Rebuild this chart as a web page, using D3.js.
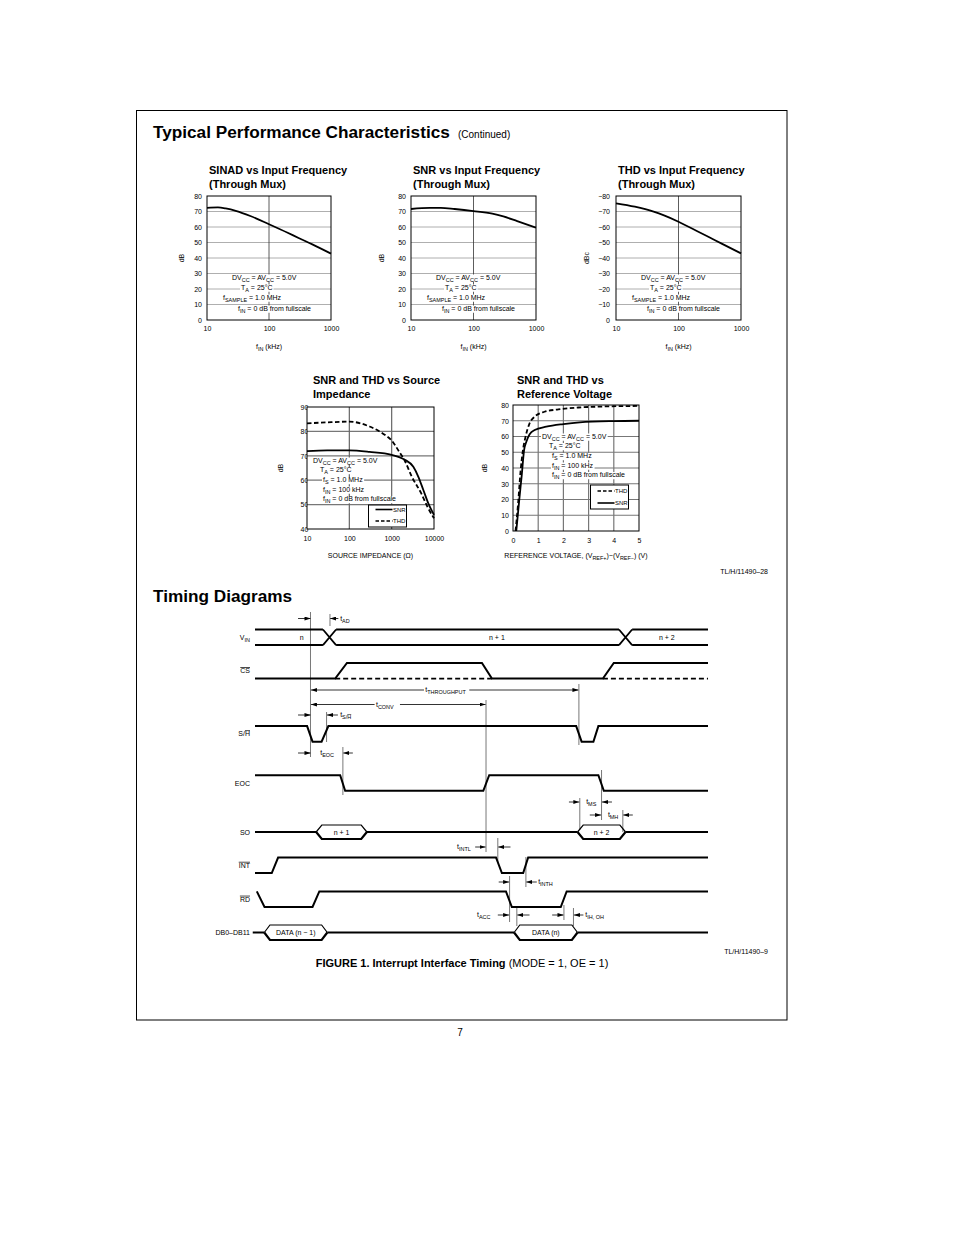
<!DOCTYPE html>
<html>
<head>
<meta charset="utf-8">
<script src="https://cdn.jsdelivr.net/npm/d3@7"></script>
<style>
  body { margin: 0; background: #fff; }
  svg text { font-family: "Liberation Sans", Arial, sans-serif; fill: #000; }
</style>
</head>
<body>
<svg id="page" width="954" height="1235"></svg>
<script>
// ---------- chart data
const sinadFreq = [10, 15, 20, 30, 50, 100, 200, 300, 500, 1000];
const sinadDb   = [72.4, 72.6, 72.0, 70.3, 67.1, 61.8, 56.3, 52.9, 48.8, 42.8];

const snrFreq = [10, 20, 30, 50, 100, 200, 300, 500, 1000];
const snrDb   = [71.6, 72.3, 72.3, 71.6, 70.3, 68.6, 66.8, 63.8, 59.6];

const thdFreq = [10, 20, 40, 60, 100, 200, 300, 500, 1000];
const thdDbc  = [-75.3, -73.1, -69.9, -67.3, -63.4, -57.3, -53.7, -49.1, -43.0];

const zsOhm   = [10, 30, 100, 300, 1000, 2000, 3250, 4270, 5600, 7340, 10000];
const zsSnrDb = [71.9, 72.2, 72.2, 71.6, 70.4, 68.5, 65.5, 61.4, 56.0, 50.5, 45.8];
const ztOhm   = [10, 30, 100, 300, 700, 1000, 1500, 2000, 3000, 5000, 7000, 10000];
const zsThdDb = [83.3, 83.7, 84.0, 82.0, 78.5, 76.3, 71.7, 68.3, 61.4, 54.6, 49.1, 44.4];

const vrThdV  = [0.1, 0.2, 0.3, 0.4, 0.5, 0.65, 0.85, 1.25, 1.8, 2.6, 3.5, 5];
const vrThdDb = [0, 17, 38, 52, 60, 68, 72.5, 75.7, 77.2, 78.4, 79.0, 79.4];
const vrSnrV  = [0.13, 0.25, 0.35, 0.44, 0.53, 0.66, 0.86, 1.32, 2.0, 2.65, 4.0, 5];
const vrSnrDb = [0, 20, 36, 51.4, 56.7, 61.4, 64.1, 66.2, 67.9, 69.0, 69.8, 70.0];

const dbTicks   = [0, 10, 20, 30, 40, 50, 60, 70, 80];
const dbcTicks  = [0, -10, -20, -30, -40, -50, -60, -70, -80];
const zsDbTicks = [40, 50, 60, 70, 80, 90];
const freqTicks = [10, 100, 1000];
const ohmTicks  = [10, 100, 1000, 10000];
const voltTicks = [0, 1, 2, 3, 4, 5];

// ---------- timing data (time in arbitrary units, 0..100 across the diagram)
const vinCross   = [16.45, 81.8];
const vinText    = ['n', 'n + 1', 'n + 2'];
const vinTextAt  = [10.3, 53.4, 90.9];
const csWave  = [[0,0],[17.7,0],[20.3,1],[50.1,1],[52.3,0],[76.8,0],[79.2,1],[100,1]];
const csFloat = [[17.7,52.3],[76.8,100]];
const shWave  = [[0,1],[11.5,1],[12.7,0],[14.7,0],[16.2,1],[70.9,1],[72.1,0],[74.7,0],[75.8,1],[100,1]];
const eocWave = [[0,1],[18.8,1],[19.9,0],[50.4,0],[51.7,1],[75.8,1],[77.0,0],[100,0]];
const soWin   = [[13.5,24.7],[71.2,81.8]];
const soText  = ['n + 1', 'n + 2'];
const intWave = [[0,0],[3.7,0],[5.1,1],[53.2,1],[54.5,0],[59.2,0],[60.3,1],[100,1]];
const rdWave  = [[0.4,1],[2.1,0],[12.7,0],[14.2,1],[55.4,1],[56.7,0],[67.5,0],[68.8,1],[100,1]];
const dbWin   = [[2.05,15.96],[57.2,71.2]];
const dbText  = ['DATA (n \u2212 1)', 'DATA (n)'];

const FN = '"Liberation Sans Narrow", "Liberation Sans", Arial, sans-serif';
const svg = d3.select('#page');

// text with sub-scripts / overlines: parts = ['txt', ['sub','sub'], ['H','over'], ...]
function rich(sel, parts, size) {
  let shift = 0;
  parts.forEach(p => {
    const [str, kind] = typeof p === 'string' ? [p, null] : p;
    const target = (kind === 'sub' || kind === 'subover') ? size * 0.32 : 0;
    const ts = sel.append('tspan').attr('dy', target - shift).text(str);
    shift = target;
    if (kind === 'sub' || kind === 'subover') ts.attr('font-size', size * 0.78);
    if (kind === 'over' || kind === 'subover') ts.style('text-decoration', 'overline');
  });
  return sel;
}

function label(g, x, y, parts, size, opts = {}) {
  const t = g.append('text').attr('x', x).attr('y', y).attr('font-size', size)
    .attr('font-family', opts.family || FN);
  if (opts.anchor) t.attr('text-anchor', opts.anchor);
  if (opts.weight) t.attr('font-weight', opts.weight);
  rich(t, parts, size);
  if (opts.bg) {
    const b = t.node().getBBox();
    g.insert('rect', () => t.node()).attr('x', b.x - 1).attr('y', b.y + 1)
      .attr('width', b.width + 2).attr('height', b.height - 2).attr('fill', '#fff');
  }
  return t;
}

// page frame + headings
svg.append('rect').attr('x', 136.5).attr('y', 110.5).attr('width', 650.5).attr('height', 909.5)
  .attr('fill', 'none').attr('stroke', '#000').attr('stroke-width', 1);
svg.append('text').attr('x', 153).attr('y', 138).attr('font-size', 17.2).attr('font-weight', 'bold')
  .text('Typical Performance Characteristics');
svg.append('text').attr('x', 458).attr('y', 137.5).attr('font-size', 10).text('(Continued)');
svg.append('text').attr('x', 153).attr('y', 602).attr('font-size', 17.2).attr('font-weight', 'bold')
  .text('Timing Diagrams');
svg.append('text').attr('x', 768).attr('y', 574).attr('font-size', 7).attr('text-anchor', 'end')
  .attr('font-family', FN).text('TL/H/11490\u201328');
svg.append('text').attr('x', 768).attr('y', 954).attr('font-size', 7).attr('text-anchor', 'end')
  .attr('font-family', FN).text('TL/H/11490\u20139');
svg.append('text').attr('x', 460).attr('y', 1036).attr('font-size', 10).attr('text-anchor', 'middle').text('7');
{
  const cap = svg.append('text').attr('x', 462).attr('y', 967).attr('font-size', 11).attr('text-anchor', 'middle');
  cap.append('tspan').attr('font-weight', 'bold').text('FIGURE 1. Interrupt Interface Timing');
  cap.append('tspan').text(' (MODE = 1, OE = 1)');
}

// ---------- generic characteristic plot
function chart(c) {
  const g = svg.append('g');
  const x = (c.log ? d3.scaleLog() : d3.scaleLinear()).domain(c.xDomain).range([c.left, c.right]);
  const y = d3.scaleLinear().domain(c.yDomain).range([c.bottom, c.top]);

  c.title.forEach((t, i) => g.append('text').attr('x', c.titleX).attr('y', c.titleY + i * 13.5)
    .attr('font-size', 11).attr('font-weight', 'bold').text(t));

  const ya = g.append('g').attr('transform', `translate(${c.left},0)`)
    .call(d3.axisLeft(y).tickValues(c.yTicks).tickSize(0).tickPadding(c.yPad).tickFormat(d3.format('d')));
  ya.select('.domain').remove();
  ya.selectAll('text').attr('font-size', 7).attr('font-family', FN).attr('fill', '#000');

  const xa = g.append('g').attr('transform', `translate(0,${c.bottom})`)
    .call(d3.axisBottom(x).tickValues(c.xTicks).tickSize(0).tickPadding(c.xPad).tickFormat(d3.format('d')));
  xa.select('.domain').remove();
  xa.selectAll('text').attr('font-size', 7).attr('font-family', FN).attr('fill', '#000');

  // plot background (also hides the right half of clipped tick labels)
  g.append('rect').attr('x', c.left).attr('y', c.top).attr('width', c.right - c.left)
    .attr('height', c.bottom - c.top).attr('fill', '#fff');

  g.selectAll('line.hg').data(c.yTicks.slice(1, -1)).join('line').attr('class', 'hg')
    .attr('x1', c.left).attr('x2', c.right).attr('y1', d => y(d)).attr('y2', d => y(d))
    .attr('stroke', c.gridColor).attr('stroke-width', c.gridWidth);
  g.selectAll('line.vg').data(c.xGrid).join('line').attr('class', 'vg')
    .attr('y1', c.top).attr('y2', c.bottom).attr('x1', d => x(d)).attr('x2', d => x(d))
    .attr('stroke', c.vGridColor).attr('stroke-width', c.gridWidth);

  // axis titles
  const yt = g.append('text').attr('transform', `translate(${c.yTitleX},${(c.top + c.bottom) / 2}) rotate(-90)`)
    .attr('text-anchor', 'middle').attr('font-size', 7).attr('font-family', FN);
  yt.text(c.yTitle);
  label(g, (c.left + c.right) / 2, c.xTitleY, c.xTitle, 7, { anchor: 'middle' });

  // condition notes
  c.notes.forEach(n => label(g, c.left + n[0], c.top + n[1], n[2], 7, { bg: true }));

  const line = d3.line().curve(d3.curveMonotoneX).x(d => x(d[0])).y(d => y(d[1]));
  c.series.forEach(s => {
    g.append('path').attr('d', line(d3.zip(s.x, s.y))).attr('fill', 'none')
      .attr('stroke', '#000').attr('stroke-width', 1.8)
      .attr('stroke-dasharray', s.dash ? '4.5,2.5' : null);
  });

  g.append('rect').attr('x', c.left).attr('y', c.top).attr('width', c.right - c.left)
    .attr('height', c.bottom - c.top).attr('fill', 'none').attr('stroke', '#000').attr('stroke-width', 1);

  if (c.legend) {
    const L = c.legend;
    g.append('rect').attr('x', L.x).attr('y', L.y).attr('width', L.w).attr('height', L.h)
      .attr('fill', '#fff').attr('stroke', '#000').attr('stroke-width', 1);
    L.items.forEach((it, i) => {
      const yy = L.y + L.rowY[i];
      g.append('line').attr('x1', L.x + 7).attr('x2', L.x + 24).attr('y1', yy).attr('y2', yy)
        .attr('stroke', '#000').attr('stroke-width', 1.6).attr('stroke-dasharray', it.dash ? '3.5,2' : null);
      g.append('text').attr('x', L.x + 24.5).attr('y', yy + 2.2).attr('font-size', 6)
        .attr('font-family', FN).text(it.name);
    });
  }
}

const topNotes = [
  [25, 83.5, ['DV', ['CC', 'sub'], ' = AV', ['CC', 'sub'], ' = 5.0V']],
  [34, 93.5, ['T', ['A', 'sub'], ' = 25\u00b0C']],
  [16, 103.5, ['f', ['SAMPLE', 'sub'], ' = 1.0 MHz']],
  [31, 114.5, ['f', ['IN', 'sub'], ' = 0 dB  from  fullscale']]
];
const fIn = ['f', ['IN', 'sub'], '  (kHz)'];

const topCommon = {
  log: true, xDomain: [10, 1000], xTicks: freqTicks, xGrid: [100], top: 196, bottom: 320,
  xPad: 6, xTitleY: 349, titleY: 174, notes: topNotes, xTitle: fIn,
  gridColor: '#9a9a9a', vGridColor: '#333', gridWidth: 0.8
};

chart(Object.assign({}, topCommon, {
  left: 207, right: 331, title: ['SINAD vs Input Frequency', '(Through Mux)'], titleX: 209,
  yDomain: [0, 80], yTicks: dbTicks, yPad: 5, yTitle: 'dB', yTitleX: 184,
  series: [{ x: sinadFreq, y: sinadDb }]
}));
chart(Object.assign({}, topCommon, {
  left: 411, right: 536, title: ['SNR vs Input Frequency', '(Through Mux)'], titleX: 413,
  yDomain: [0, 80], yTicks: dbTicks, yPad: 5, yTitle: 'dB', yTitleX: 384,
  series: [{ x: snrFreq, y: snrDb }]
}));
chart(Object.assign({}, topCommon, {
  left: 616, right: 741, title: ['THD vs Input Frequency', '(Through Mux)'], titleX: 618,
  yDomain: [0, -80], yTicks: dbcTicks, yPad: 6, yTitle: 'dBc', yTitleX: 589,
  series: [{ x: thdFreq, y: thdDbc }]
}));

const lowNotes = [
  [0, 0, ['DV', ['CC', 'sub'], ' = AV', ['CC', 'sub'], ' = 5.0V']],
  [7, 9.5, ['T', ['A', 'sub'], ' = 25\u00b0C']],
  [10, 19.5, ['f', ['S', 'sub'], ' = 1.0 MHz']],
  [10, 29, ['f', ['IN', 'sub'], ' = 100 kHz']],
  [10, 38.5, ['f', ['IN', 'sub'], ' = 0 dB  from  fullscale']]
];
function shiftNotes(dx, dy) { return lowNotes.map(n => [n[0] + dx, n[1] + dy, n[2]]); }

chart({
  log: true, xDomain: [10, 10000], xTicks: ohmTicks, xGrid: [100, 1000],
  left: 307, right: 434, top: 407, bottom: 529, xPad: 7, xTitleY: 558,
  title: ['SNR and THD vs Source', 'Impedance'], titleX: 313, titleY: 384,
  yDomain: [40, 90], yTicks: zsDbTicks, yPad: -1.4, yTitle: 'dB', yTitleX: 283,
  xTitle: ['SOURCE IMPEDANCE (\u03a9)'],
  notes: shiftNotes(6, 55.5), gridColor: '#777', vGridColor: '#666', gridWidth: 1.2,
  series: [{ x: zsOhm, y: zsSnrDb }, { x: ztOhm, y: zsThdDb, dash: true }],
  legend: { x: 368.5, y: 505, w: 38, h: 22, rowY: [4.5, 16], items: [{ name: 'SNR' }, { name: 'THD', dash: true }] }
});

chart({
  log: false, xDomain: [0, 5], xTicks: voltTicks, xGrid: [1, 2, 3, 4],
  left: 513, right: 639, top: 405, bottom: 531, xPad: 7, xTitleY: 558,
  title: ['SNR and THD vs', 'Reference Voltage'], titleX: 517, titleY: 384,
  yDomain: [0, 80], yTicks: dbTicks, yPad: 4, yTitle: 'dB', yTitleX: 487,
  xTitle: ['REFERENCE VOLTAGE, (V', ['REF+', 'sub'], ')\u2212(V', ['REF\u2212', 'sub'], ') (V)'],
  notes: shiftNotes(29, 33.5), gridColor: '#777', vGridColor: '#777', gridWidth: 1.2,
  series: [{ x: vrThdV, y: vrThdDb, dash: true }, { x: vrSnrV, y: vrSnrDb }],
  legend: { x: 590.5, y: 485, w: 38, h: 24, rowY: [6, 18], items: [{ name: 'THD', dash: true }, { name: 'SNR' }] }
});

// ---------- timing diagram
const tg = svg.append('g');
const tx = d3.scaleLinear().domain([0, 100]).range([255, 708]);
const rows = { VIN: 637.3, CS: 670.8, SH: 733.9, EOC: 783, SO: 832, INT: 865.3, RD: 899.2, DB: 932.5 };
const amp = 7.8;
const lv = (row, l) => rows[row] + (l ? -amp : amp);

// signal names
const names = [
  ['VIN', ['V', ['IN', 'sub']]], ['CS', [['CS', 'over']]], ['SH', ['S/', ['H', 'over']]],
  ['EOC', ['EOC']], ['SO', ['SO']], ['INT', [['INT', 'over']]], ['RD', [['RD', 'over']]],
  ['DB', ['DB0\u2013DB11']]
];
names.forEach(([r, parts]) => label(tg, 250, rows[r] + 2.5, parts, 7, { anchor: 'end' }));

// thin reference lines first
const refLines = [
  [12.25, 612, 757], [16.55, 614, 626], [15.8, 712, 742], [19.4, 747, 795],
  [51.0, 700, 852], [71.5, 684, 745], [71.7, 798, 830], [76.5, 770, 820], [81.2, 810, 832],
  [53.6, 838, 862], [56.2, 876, 922], [59.8, 857, 887], [57.8, 908, 926], [68.2, 905, 920], [70.3, 908, 926]
];
tg.selectAll('line.ref').data(refLines).join('line').attr('class', 'ref')
  .attr('x1', d => tx(d[0])).attr('x2', d => tx(d[0])).attr('y1', d => d[1]).attr('y2', d => d[2])
  .attr('stroke', '#555').attr('stroke-width', 0.8);

const wave = d3.line().x(d => tx(d[0])).y(d => d[1]);
function drawWave(row, pts) {
  tg.append('path').attr('d', wave(pts.map(p => [p[0], lv(row, p[1])])))
    .attr('fill', 'none').attr('stroke', '#000').attr('stroke-width', 2).attr('stroke-linejoin', 'miter');
}
drawWave('CS', csWave);
drawWave('SH', shWave);
drawWave('EOC', eocWave);
drawWave('INT', intWave);
drawWave('RD', rdWave);
csFloat.forEach(f => tg.append('line').attr('x1', tx(f[0])).attr('x2', tx(f[1]))
  .attr('y1', lv('CS', 0)).attr('y2', lv('CS', 0)).attr('stroke', '#000').attr('stroke-width', 1.8)
  .attr('stroke-dasharray', '5,3'));

// V_IN bus with crossings
{
  const hw = 1.45, bounds = [0, ...vinCross, 100];
  for (let i = 0; i < bounds.length - 1; i++) {
    const a = i === 0 ? bounds[i] : bounds[i] + hw, b = i === bounds.length - 2 ? bounds[i + 1] : bounds[i + 1] - hw;
    [0, 1].forEach(l => tg.append('line').attr('x1', tx(a)).attr('x2', tx(b))
      .attr('y1', lv('VIN', l)).attr('y2', lv('VIN', l)).attr('stroke', '#000').attr('stroke-width', 2));
    label(tg, tx(vinTextAt[i]), rows.VIN + 2.5, [vinText[i]], 7, { anchor: 'middle' });
  }
  vinCross.forEach(c => {
    tg.append('path').attr('d', `M${tx(c - hw)},${lv('VIN', 1)}L${tx(c + hw)},${lv('VIN', 0)}M${tx(c - hw)},${lv('VIN', 0)}L${tx(c + hw)},${lv('VIN', 1)}`)
      .attr('stroke', '#000').attr('stroke-width', 1.8).attr('fill', 'none');
  });
}

// hexagon buses
function drawBus(row, start, wins, texts, h) {
  const s = 1.25, m = rows[row];
  const edges = [start, ...wins.flat(), 100];
  for (let i = 0; i < edges.length; i += 2) {
    tg.append('line').attr('x1', tx(edges[i])).attr('x2', tx(edges[i + 1])).attr('y1', m).attr('y2', m)
      .attr('stroke', '#000').attr('stroke-width', 2);
  }
  wins.forEach((w, i) => {
    const [a, b] = w;
    tg.append('path').attr('d', `M${tx(a)},${m}L${tx(a + s)},${m - h}L${tx(b - s)},${m - h}L${tx(b)},${m}`)
      .attr('fill', 'none').attr('stroke', '#000').attr('stroke-width', 1.2);
    tg.append('path').attr('d', `M${tx(a)},${m}L${tx(a + s)},${m + h}L${tx(b - s)},${m + h}L${tx(b)},${m}`)
      .attr('fill', 'none').attr('stroke', '#000').attr('stroke-width', 2.2);
    label(tg, tx((a + b) / 2), m + 2.5, [texts[i]], 7, { anchor: 'middle' });
  });
}
drawBus('SO', 0, soWin, soText, 7);
drawBus('DB', -0.5, dbWin, dbText, 7.5);

// dimension arrows: [y, from, to]  (head at "to")
svg.append('defs').append('marker').attr('id', 'ah').attr('viewBox', '0 0 6 4')
  .attr('refX', 6).attr('refY', 2).attr('markerWidth', 6).attr('markerHeight', 4)
  .attr('markerUnits', 'userSpaceOnUse').attr('orient', 'auto')
  .append('path').attr('d', 'M0,0L6,2L0,4Z').attr('fill', '#000');

const arrows = [
  [618.5, 9.5, 12.25], [618.5, 18.4, 16.6],
  [690, 37.3, 12.35], [690, 47.3, 71.4],
  [704.5, 26.4, 12.35], [704.5, 32.0, 50.9],
  [715, 9.5, 12.25], [715, 18.3, 15.9],
  [753, 9.5, 12.25], [753, 21.6, 19.5],
  [802, 69.3, 71.6], [802, 78.8, 76.6],
  [815, 73.9, 76.4], [815, 83.4, 81.3],
  [847, 48.6, 50.9], [847, 56.4, 53.7],
  [882, 53.8, 56.1], [882, 62.2, 59.9],
  [915, 53.6, 56.1], [915, 60.6, 57.9], [915, 65.6, 68.1], [915, 72.5, 70.4]
];
tg.selectAll('line.arr').data(arrows).join('line').attr('class', 'arr')
  .attr('x1', d => tx(d[1])).attr('x2', d => tx(d[2])).attr('y1', d => d[0]).attr('y2', d => d[0])
  .attr('stroke', '#000').attr('stroke-width', 0.8).attr('marker-end', 'url(#ah)');

const tLabels = [
  [18.8, 621, ['t', ['AD', 'sub']]],
  [37.6, 692, ['t', ['THROUGHPUT', 'sub']]],
  [26.7, 706.5, ['t', ['CONV', 'sub']]],
  [18.8, 717, ['t', ['S/', 'sub'], ['H', 'subover']]],
  [14.4, 755, ['t', ['EOC', 'sub']]],
  [73.1, 804, ['t', ['MS', 'sub']]],
  [77.9, 817, ['t', ['MH', 'sub']]],
  [44.6, 849, ['t', ['INTL', 'sub']]],
  [62.5, 884, ['t', ['INTH', 'sub']]],
  [49.0, 917, ['t', ['ACC', 'sub']]],
  [72.9, 917, ['t', ['IH, OH', 'sub']]]
];
tLabels.forEach(d => label(tg, tx(d[0]), d[1], d[2], 7));
</script>
</body>
</html>
